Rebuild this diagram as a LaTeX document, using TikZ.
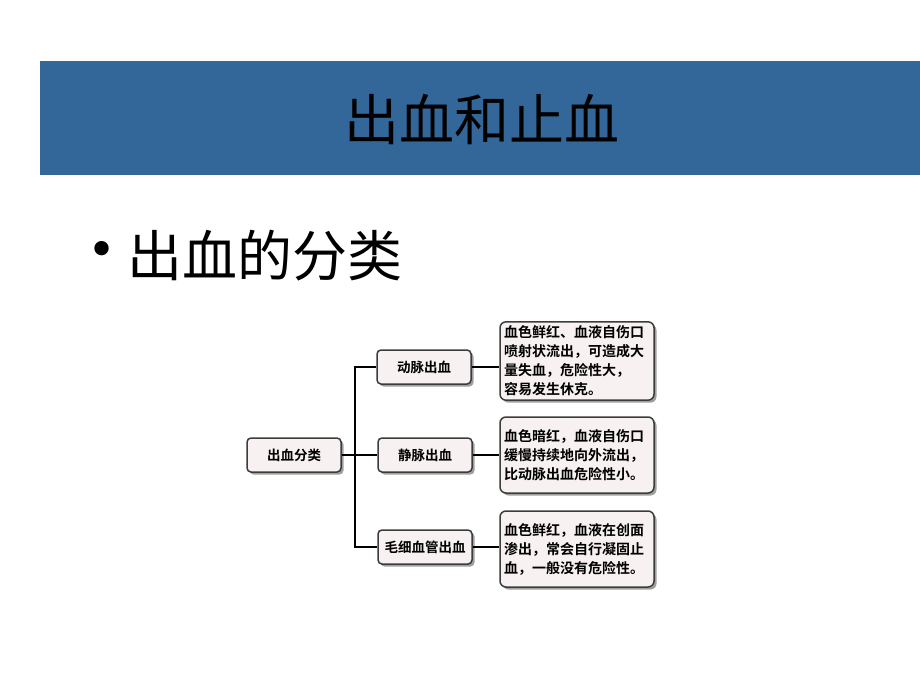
\documentclass[tikz,border=0pt]{standalone}
\usepackage{fontspec}
\setmainfont{Liberation Serif}
\newfontfamily\cjk{Noto Sans CJK SC}
\newfontfamily\cjkbold{Noto Sans CJK SC Bold}
\usepackage{xcolor}
\usetikzlibrary{positioning,shadows}
\definecolor{banner}{RGB}{51,102,153}
\definecolor{boxfill}{RGB}{248,241,241}
\definecolor{boxline}{RGB}{60,60,60}

\begin{document}
\begin{tikzpicture}[
    x=1pt, y=-1pt,
    catbox/.style={
        rectangle,
        rounded corners=4pt,
        draw=boxline,
        line width=1.5pt,
        fill=boxfill,
        align=center,
        minimum width=94pt,
        minimum height=34pt,
        inner sep=2pt,
        font=\cjkbold\fontsize{13.5}{15}\selectfont,
        drop shadow={shadow xshift=2.5pt, shadow yshift=-2.5pt, fill=black!75}
    },
    notebox/.style={
        rectangle,
        rounded corners=6pt,
        draw=boxline,
        line width=1.5pt,
        fill=boxfill,
        align=left,
        text width=146pt,
        minimum height=76pt,
        inner sep=4pt,
        font=\cjkbold\fontsize{14}{19}\selectfont,
        drop shadow={shadow xshift=2.5pt, shadow yshift=-2.5pt, fill=black!75}
    },
    link/.style={
        line width=2pt,
        black
    }
]
\useasboundingbox (0,0) rectangle (920,690);

% =========================
% Title banner
% =========================

\fill[banner] (40,61) rectangle (920,175);
\node[font=\cjk\fontsize{55}{60}\selectfont] (title) at (482,120)
{出血和止血};

\node[font=\fontsize{60}{64}\selectfont] (bullet) at (102,255) {\textbullet};
\node[font=\cjk\fontsize{55}{60}\selectfont, anchor=west] (heading) at (124,256)
{出血的分类};

% =========================
% Classification tree
% =========================

\node[catbox] (root) at (294,455) {出血分类};

\node[catbox] (artery) at (424,367) {动脉出血};
\node[catbox] (vein) at (425,455) {静脉出血};
\node[catbox] (capillary) at (425,547) {毛细血管出血};

\node[notebox] (arterynote) at (577,361)
{血色鲜红、血液自伤口\\喷射状流出，可造成大\\量失血，危险性大，\\容易发生休克。};

\node[notebox] (veinnote) at (577,455)
{血色暗红，血液自伤口\\缓慢持续地向外流出，\\比动脉出血危险性小。};

\node[notebox] (capillarynote) at (577,549)
{血色鲜红，血液在创面\\渗出，常会自行凝固止\\血，一般没有危险性。};

% =========================
% Connectors
% =========================

\coordinate (split) at (355,455);

\draw[link] (root.east) -- (split);
\draw[link] (artery.west) -| (split) |- (capillary.west);
\draw[link] (split) -- (vein.west);

\draw[link] (artery.east) -- (artery.east -| arterynote.west);
\draw[link] (vein.east) -- (vein.east -| veinnote.west);
\draw[link] (capillary.east) -- (capillary.east -| capillarynote.west);

\end{tikzpicture}
\end{document}
